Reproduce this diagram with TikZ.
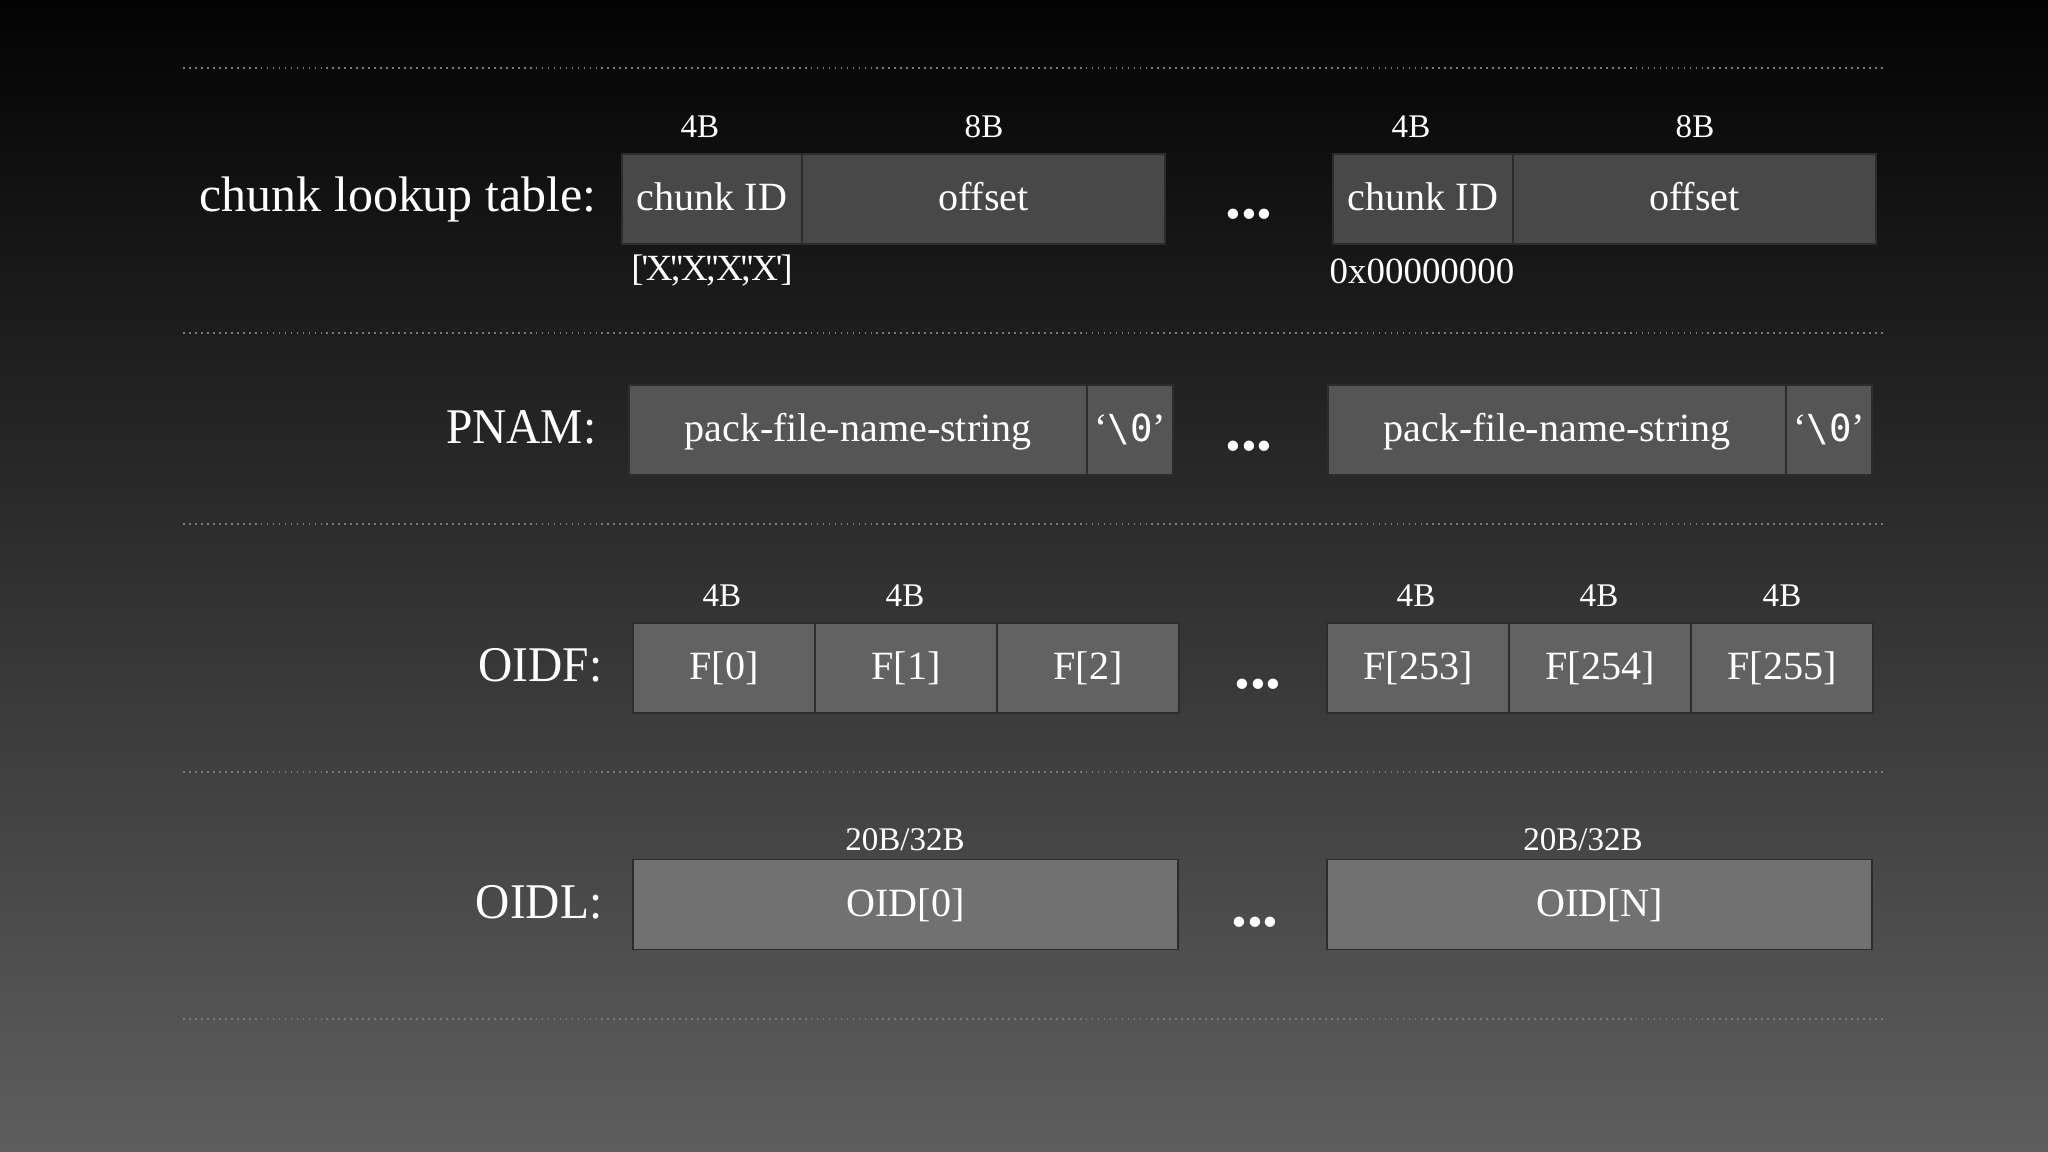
\documentclass[tikz,border=0pt]{standalone}
\usepackage{fontspec}
\setmainfont{Liberation Serif}
\newfontfamily\monofont{DejaVu Sans Mono}
\definecolor{bgtop}{HTML}{030303}
\definecolor{bgbot}{HTML}{5E5E5E}
\definecolor{rowA}{HTML}{484848}
\definecolor{rowB}{HTML}{555555}
\definecolor{rowC}{HTML}{626262}
\definecolor{rowD}{HTML}{717171}
\definecolor{cellline}{HTML}{2C2C2C}
\definecolor{dotcol}{HTML}{7A7A7A}
\newcommand{\qs}{\kern-0.06em\textquotesingle\kern-0.06em}
\newcommand{\cm}{\kern-0.1em,\kern-0.04em}
\newcommand{\nulchar}{‘{\monofont\fontsize{10.6}{12}\selectfont\textbackslash0}’}

\begin{document}
\begin{tikzpicture}[x=0.01cm,y=-0.01cm,
    lbl/.style={text=white, font=\fontsize{14.2}{16}\selectfont, anchor=base east, inner sep=0pt},
    cell/.style={draw=cellline, line width=0.5pt, minimum height=0.9cm, inner sep=0pt,
        text=white, font=\fontsize{11.4}{13}\selectfont, text height=0.66em, text depth=0pt},
    size/.style={text=white, font=\fontsize{9.4}{11}\selectfont, inner sep=0pt},
    note/.style={text=white, font=\fontsize{10.5}{12}\selectfont, inner sep=0pt},
    more/.style={text=white, font=\fontsize{18}{20}\selectfont\bfseries, inner sep=0pt},
    sep/.style={dotcol, line width=0.6pt, dash pattern=on 0.5pt off 1.2pt}]

    % background and separators
    \shade[top color=bgtop, bottom color=bgbot] (0,0) rectangle (2048,1152);
    \foreach \y in {68,333,524,772,1019}
    \draw[sep] (183,\y) -- (1883,\y);

    % chunk lookup table
    \node[lbl] (tblL) at (597,212) {chunk lookup table:};
    \node[cell, fill=rowA, minimum width=1.8cm] (cidA) at (712,199) {chunk ID};
    \node[cell, fill=rowA, minimum width=3.63cm] (offA) at (983.5,199) {offset};
    \node[cell, fill=rowA, minimum width=1.8cm] (cidB) at (1423,199) {chunk ID};
    \node[cell, fill=rowA, minimum width=3.63cm] (offB) at (1694.5,199) {offset};
    \node[more] (moreA) at (1249,214) {...};
    \node[size] (szA1) at (700,127) {4B};
    \node[size] (szA2) at (984,127) {8B};
    \node[size] (szA3) at (1411,127) {4B};
    \node[size] (szA4) at (1695,127) {8B};
    \node[note] (idA) at (712,271) {[\qs X\qs\cm\qs X\qs\cm\qs X\qs\cm\qs X\qs]};
    \node[note] (idB) at (1422,271) {0x00000000};

    % PNAM
    \node[lbl, xscale=0.95, transform shape] (pnamL) at (597,444) {PNAM:};
    \node[cell, fill=rowB, minimum width=4.58cm] (pfsA) at (858,430) {pack-file-name-string};
    \node[cell, fill=rowB, minimum width=0.86cm] (nulA) at (1130,430) {\nulchar};
    \node[cell, fill=rowB, minimum width=4.58cm] (pfsB) at (1557,430) {pack-file-name-string};
    \node[cell, fill=rowB, minimum width=0.86cm] (nulB) at (1829,430) {\nulchar};
    \node[more] (moreB) at (1249,446) {...};

    % OIDF
    \node[lbl, xscale=0.95, transform shape] (oidfL) at (603,682) {OIDF:};
    \node[cell, fill=rowC, minimum width=1.82cm] (fA) at (724,668) {F[0]};
    \node[cell, fill=rowC, minimum width=1.82cm] (fB) at (906,668) {F[1]};
    \node[cell, fill=rowC, minimum width=1.82cm] (fC) at (1088,668) {F[2]};
    \node[cell, fill=rowC, minimum width=1.82cm] (fD) at (1418,668) {F[253]};
    \node[cell, fill=rowC, minimum width=1.82cm] (fE) at (1600,668) {F[254]};
    \node[cell, fill=rowC, minimum width=1.82cm] (fF) at (1782,668) {F[255]};
    \node[more] (moreC) at (1258,684) {...};
    \node[size] (szC1) at (722,596) {4B};
    \node[size] (szC2) at (905,596) {4B};
    \node[size] (szC3) at (1416,596) {4B};
    \node[size] (szC4) at (1599,596) {4B};
    \node[size] (szC5) at (1782,596) {4B};

    % OIDL
    \node[lbl, xscale=0.95, transform shape] (oidlL) at (603,918) {OIDL:};
    \node[cell, fill=rowD, minimum width=5.45cm] (oidA) at (905.5,904.5) {OID[0]};
    \node[cell, fill=rowD, minimum width=5.45cm] (oidB) at (1599.5,904.5) {OID[N]};
    \node[more] (moreD) at (1255,922) {...};
    \node[size] (szD1) at (905,840) {20B/32B};
    \node[size] (szD2) at (1583,840) {20B/32B};

\end{tikzpicture}
\end{document}
